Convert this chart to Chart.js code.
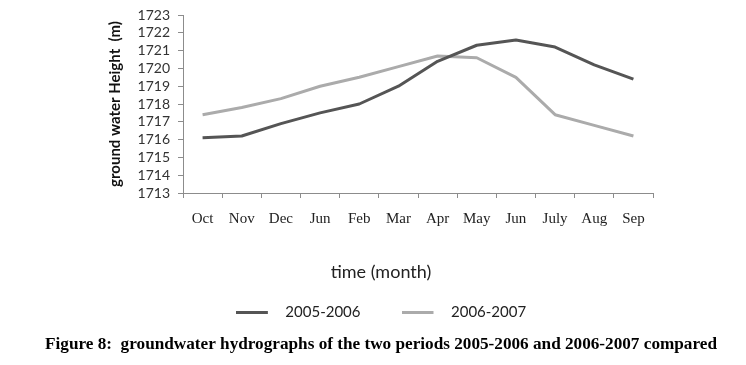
<!DOCTYPE html>
<html>
<head>
<meta charset="utf-8">
<script src="https://cdn.jsdelivr.net/npm/chart.js@4"></script>
<style>
  html, body { margin: 0; padding: 0; background: #fff; }
  #wrap { width: 746px; height: 365px; }
</style>
</head>
<body>
<div id="wrap"><canvas id="gwChart" width="746" height="365"></canvas></div>
<script>
// months as printed on the original figure
const months = ['Oct', 'Nov', 'Dec', 'Jun', 'Feb', 'Mar', 'Apr', 'May', 'Jun', 'July', 'Aug', 'Sep'];
const h2005 = [1716.1, 1716.2, 1716.9, 1717.5, 1718.0, 1719.0, 1720.4, 1721.3, 1721.6, 1721.2, 1720.2, 1719.4];
const h2006 = [1717.4, 1717.8, 1718.3, 1719.0, 1719.5, 1720.1, 1720.7, 1720.6, 1719.5, 1717.4, 1716.8, 1716.2];
const yMin = 1713;
const yMax = 1723;

const darkGrey = '#555555';
const lightGrey = '#ababab';

// legend swatch: a short line with some empty room after it
function legendLine(color) {
    const c = document.createElement('canvas');
    c.width = 42;
    c.height = 3;
    const g = c.getContext('2d');
    g.fillStyle = color;
    g.fillRect(0, 0, 32, 3);
    return c;
}

const ctx = document.getElementById('gwChart').getContext('2d');
const gwChart = new Chart(ctx, {
    type: 'line',
    data: {
        labels: months,
        datasets: [{
            label: '2005-2006',
            data: h2005,
            borderColor: darkGrey,
            backgroundColor: darkGrey,
            borderWidth: 3,
            pointRadius: 0,
            pointStyle: legendLine(darkGrey),
            tension: 0,
            borderJoinStyle: 'round'
        }, {
            label: '2006-2007',
            data: h2006,
            borderColor: lightGrey,
            backgroundColor: lightGrey,
            borderWidth: 3,
            pointRadius: 0,
            pointStyle: legendLine(lightGrey),
            tension: 0,
            borderJoinStyle: 'round'
        }]
    },
    options: {
        responsive: false,
        animation: false,
        layout: { padding: { left: 16, right: 0, top: 14, bottom: 0 } },
        scales: {
            x: {
                offset: true,
                afterFit: (s) => { s.height = 40; },
                grid: { offset: true, drawOnChartArea: false, tickLength: 5, color: '#8c8c8c' },
                border: { color: '#8c8c8c' },
                ticks: {
                    autoSkip: false, maxRotation: 0, padding: 12, color: '#222',
                    font: { family: '"Liberation Serif", serif', size: 15 }
                }
            },
            y: {
                min: yMin,
                max: yMax,
                afterFit: (s) => { s.width = 167; },
                grid: { drawOnChartArea: false, tickLength: 5, color: '#8c8c8c' },
                border: { color: '#8c8c8c' },
                ticks: {
                    stepSize: 1, maxTicksLimit: 11, autoSkip: false, padding: 8, color: '#333',
                    callback: (v) => String(v),
                    font: { family: 'Lato', size: 14, lineHeight: 1 }
                },
                title: {
                    display: true,
                    text: 'ground water Height  (m)',
                    color: '#111',
                    padding: { top: 91.5, bottom: 0 },
                    font: { family: 'Lato', size: 15, weight: 'bold', lineHeight: 1 }
                }
            },
            // empty right-hand scale, only keeps the white margin on the right
            yRight: {
                position: 'right',
                afterFit: (s) => { s.width = 93; },
                grid: { display: false },
                border: { display: false },
                ticks: { display: false }
            }
        },
        plugins: {
            tooltip: { enabled: false },
            subtitle: {
                display: true,
                position: 'bottom',
                weight: 500,
                text: 'time (month)',
                color: '#222',
                padding: { top: 28.2, bottom: -19.3 },
                font: { family: 'Lato', size: 18, lineHeight: 1.2 }
            },
            legend: {
                position: 'bottom',
                labels: {
                    usePointStyle: true,
                    pointStyleWidth: 42,
                    padding: 41,
                    color: '#222',
                    font: { family: 'Lato', size: 15 }
                }
            },
            title: {
                display: true,
                position: 'bottom',
                text: 'Figure 8:  groundwater hydrographs of the two periods 2005-2006 and 2006-2007 compared',
                color: '#000',
                padding: { top: 5.3, bottom: 9.8 },
                font: { family: '"Liberation Serif", serif', size: 17.2, weight: 'bold', lineHeight: 1.186 }
            }
        }
    }
});
</script>
</body>
</html>
